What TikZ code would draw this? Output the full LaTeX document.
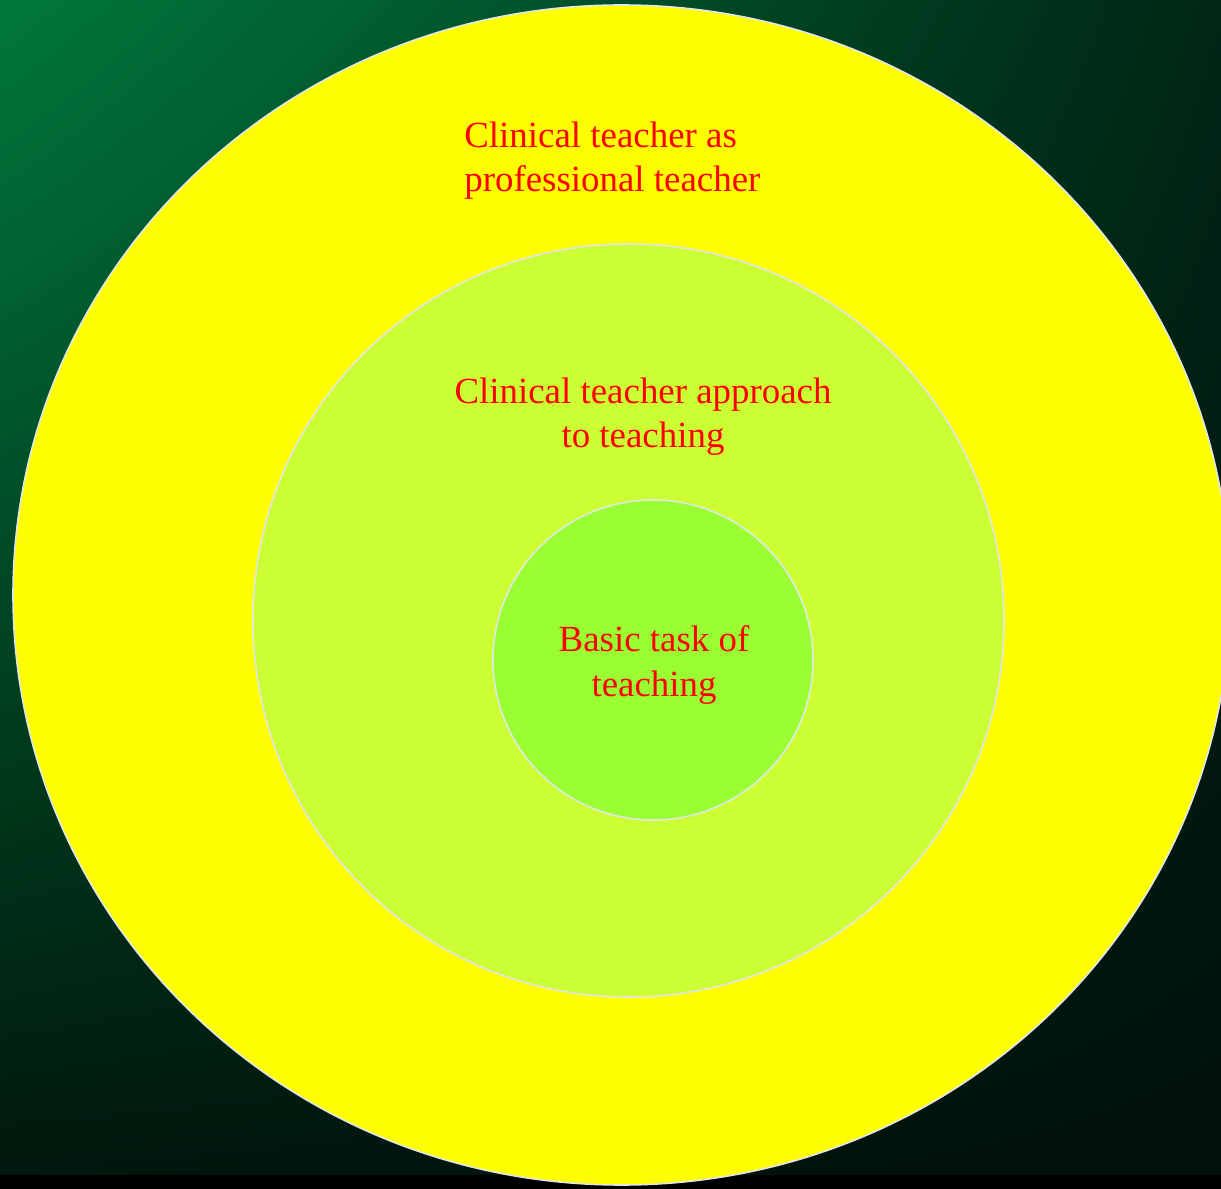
\documentclass[tikz,border=0pt]{standalone}
\usepackage{fontspec}
\setmainfont{Liberation Serif}
\usetikzlibrary{shadings}
\definecolor{bgtl}{RGB}{0,120,60}
\definecolor{bgtr}{RGB}{0,38,22}
\definecolor{bgbl}{RGB}{0,22,12}
\definecolor{bgbr}{RGB}{0,16,10}
\definecolor{ringline}{RGB}{225,230,232}
\definecolor{ringouter}{RGB}{255,255,0}
\definecolor{ringmiddle}{RGB}{204,255,51}
\definecolor{ringinner}{RGB}{153,255,51}
\tikzset{
  ring/.style={draw=ringline, line width=0.9pt},
  ringlabel/.style={text=red, inner sep=0pt, font=\fontsize{21}{25.6}\selectfont}
}
\begin{document}
\begin{tikzpicture}[x=0.02cm,y=-0.02cm]
  % background
  \useasboundingbox (0,0) rectangle (1221,1189);
  \clip (0,0) rectangle (1221,1189);
  \shade[upper left=bgtl, upper right=bgtr, lower left=bgbl, lower right=bgbr] (0,0) rectangle (1221,1189);
  \fill[black] (0,1175) rectangle (1221,1189);
  % rings
  \draw[ring, fill=ringouter] (621.5,595) ellipse [x radius=608.5, y radius=590];
  \draw[ring, fill=ringmiddle] (628.5,620.5) ellipse [x radius=375.5, y radius=376.5];
  \draw[ring, fill=ringinner] (653,660) circle [radius=160];
  % labels (base = last line)
  \node[ringlabel, align=left, anchor=base west] (professional) at (464,192)
    {Clinical teacher as\\professional teacher};
  \node[ringlabel, align=center, anchor=base] (approach) at (643,448)
    {Clinical teacher approach\\to teaching};
  \node[ringlabel, align=center, anchor=base] (basic) at (654,696)
    {Basic task of\\teaching};
\end{tikzpicture}
\end{document}
